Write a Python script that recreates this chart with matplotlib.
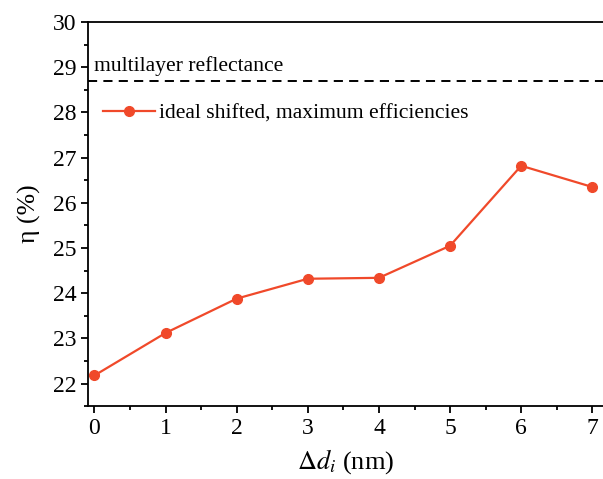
import matplotlib.pyplot as plt
from matplotlib.ticker import MultipleLocator

plt.rcParams['font.family'] = ['Liberation Serif', 'DejaVu Serif']
plt.rcParams['mathtext.fontset'] = 'stix'

delta_d = [0, 1, 2, 3, 4, 5, 6, 7]
eta = [22.18, 23.12, 23.88, 24.32, 24.34, 25.05, 26.82, 26.35]
reflectance = 28.7

color = "#f0492a"

fig = plt.figure(figsize=(6.03, 4.79), dpi=100)
ax = fig.add_axes([0.146, 0.152, 0.854, 0.802])

# dashed reference level
ax.axhline(reflectance, color="black", linestyle=(0, (4.7, 3.2)), linewidth=1.4)
ax.text(0.0, reflectance + 0.1, "multilayer reflectance", fontsize=15.6, va="bottom")
ax.plot(delta_d, eta, color=color, marker="o", markersize=7, linewidth=1.6,
        label="ideal shifted, maximum efficiencies")

ax.legend(loc="center left", bbox_to_anchor=(0.012, 0.763), frameon=False,
          fontsize=15.6, handlelength=2.4, handletextpad=0.2, borderaxespad=0)

ax.set_xlim(-0.09, 7.15)
ax.set_ylim(21.5, 30)
ax.xaxis.set_major_locator(MultipleLocator(1))
ax.xaxis.set_minor_locator(MultipleLocator(0.5))
ax.yaxis.set_major_locator(MultipleLocator(1))
ax.yaxis.set_minor_locator(MultipleLocator(0.5))
ax.tick_params(which="major", direction="out", length=5, width=1.3, labelsize=17)
ax.tick_params(which="minor", direction="out", length=3, width=1.3)
ax.spines["right"].set_visible(False)
for s in ["left", "bottom", "top"]:
    ax.spines[s].set_linewidth(1.3)

ax.set_xlabel(r"$\Delta d_i$ (nm)", fontsize=19, labelpad=6)
ax.set_ylabel("η (%)", fontsize=18.5, labelpad=8)

fig.savefig("out.png", dpi=100)
